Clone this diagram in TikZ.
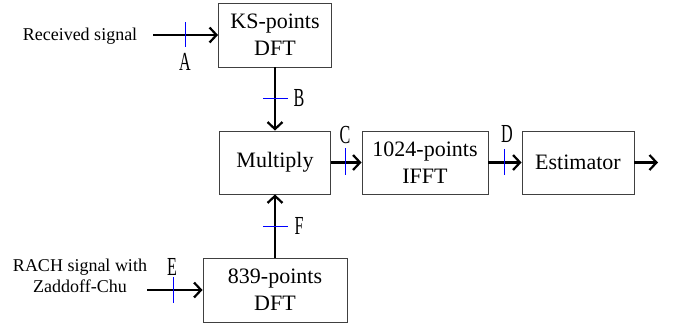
\documentclass[tikz,border=0pt]{standalone}
\usepackage{fontspec}
\setmainfont{Liberation Serif}
\usepackage{graphicx}
\usetikzlibrary{arrows.meta}
\tikzset{
  blockbox/.style={draw=black!75, line width=0.9pt, inner sep=0pt, align=center,
    font=\fontsize{22}{27}\selectfont},
  sig/.style={line width=2.2pt, -{Straight Barb[length=7pt,width=15pt]}},
  tick/.style={draw=blue, line width=0.9pt},
  lbl/.style={inner sep=0pt, font=\fontsize{18}{21}\selectfont, align=center},
  letter/.style={inner sep=0pt, font=\fontsize{26}{26}\selectfont},
}
\newcommand{\narrow}[1]{\scalebox{0.62}[1]{#1}}
\begin{document}
\begin{tikzpicture}[x=1pt,y=-1pt]
\useasboundingbox (0,0) rectangle (675,327);
% blocks
\node[blockbox, minimum width=113pt, minimum height=64pt] (ks) at (275,35) {KS-points\\DFT};
\node[blockbox, minimum width=111pt, minimum height=63pt] (mul) at (275,162.5) {Multiply};
\node[blockbox, minimum width=126pt, minimum height=63pt] (ifft) at (425,162.5) {1024-points\\IFFT};
\node[blockbox, minimum width=112pt, minimum height=63pt] (est) at (578,162.5) {Estimator};
\node[blockbox, minimum width=144pt, minimum height=64pt] (dft) at (275,290) {839-points\\DFT};
% input texts
\node[lbl, anchor=base] (rx) at (80,40) {Received signal};
\node[lbl] (rach) at (80,276) {RACH signal with\\Zaddoff-Chu};
% free ends
\coordinate (rxin) at (153,35);
\coordinate (rachin) at (147,290);
\coordinate (out) at (658,162.5);
% connectors
\draw[sig] (rxin) -- (ks.west);
\draw[sig] (ks.south) -- (mul.north);
\draw[sig] (dft.north) -- (mul.south);
\draw[sig] (rachin) -- (dft.west);
\draw[sig] (mul.east) -- (ifft.west);
\draw[sig] (ifft.east) -- (est.west);
\draw[sig] (est.east) -- (out);
% ticks
\draw[tick] (185,22) -- (185,47);
\draw[tick] (263,98) -- (288,98);
\draw[tick] (345,148) -- (345,175);
\draw[tick] (504,149) -- (504,175);
\draw[tick] (173,277) -- (173,303);
\draw[tick] (263,226) -- (288,226);
% letters
\node[letter] (la) at (185,62) {\narrow{A}};
\node[letter] (lb) at (299,98) {\narrow{B}};
\node[letter] (lc) at (345,135) {\narrow{C}};
\node[letter] (ld) at (507,134) {\narrow{D}};
\node[letter] (le) at (172,267) {\narrow{E}};
\node[letter] (lf) at (299,226) {\narrow{F}};
\end{tikzpicture}
\end{document}
